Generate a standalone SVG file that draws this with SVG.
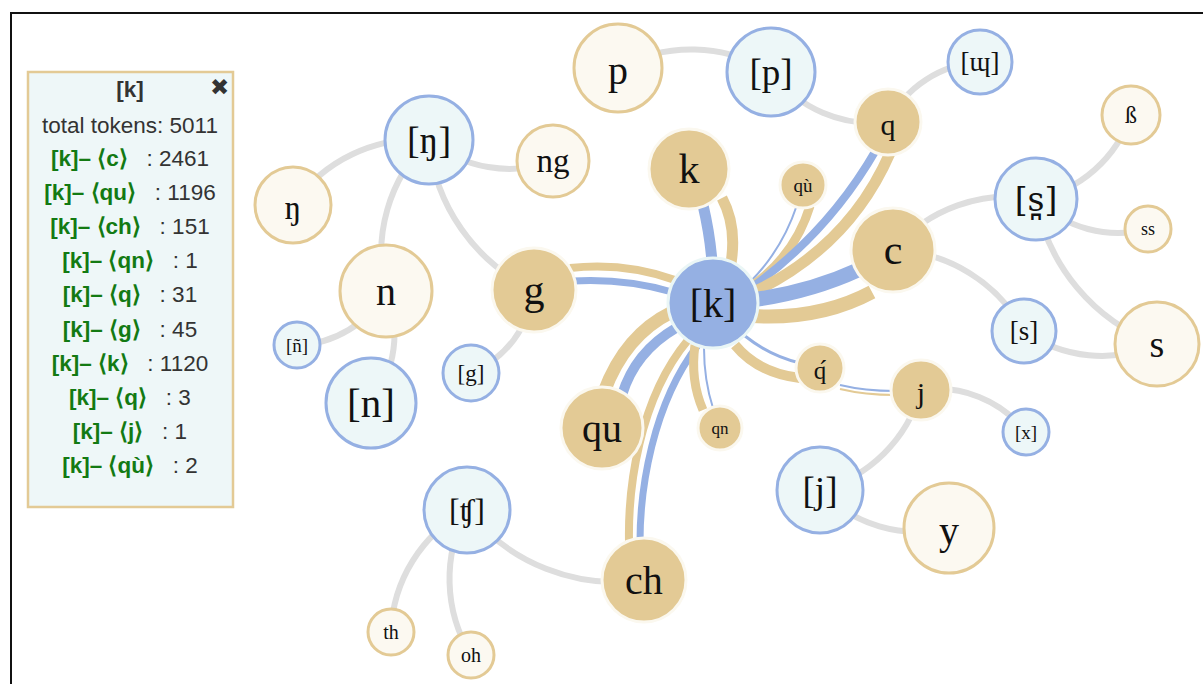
<svg xmlns="http://www.w3.org/2000/svg" width="1203" height="684" viewBox="0 0 1203 684">
<style>
.lk{fill:none;stroke:#dedede;stroke-width:6}
.b{fill:none;stroke:#95b0e3}
.t{fill:none;stroke:#e3ca95}
.ph circle{fill:#edf7f8;stroke:#95b0e3;stroke-width:3}
.gr circle{fill:#fcf9f1;stroke:#e3ca95;stroke-width:3}
.gd circle{fill:#e3ca95;stroke:#fbf8ef;stroke-width:3}
.pd circle{fill:#95b0e3;stroke:#eaf6f6;stroke-width:3}
.n text{font-family:"Liberation Serif","DejaVu Serif",serif;fill:#111;text-anchor:middle;dominant-baseline:central}
.pn text{font-family:"Liberation Sans",Arial,sans-serif;font-size:22.5px;fill:#333;text-anchor:middle}
.gn{fill:#137a13;font-weight:bold}
</style>
<rect x="0" y="0" width="1203" height="684" fill="#fff"/>
<rect x="11" y="13" width="1300" height="800" fill="none" stroke="#111" stroke-width="2"/>

<g id="connectors">
<path class="lk" d="M618 68 A153 153 0 0 1 771 72"/>
<path class="lk" d="M771 72 A127 127 0 0 0 888 122"/>
<path class="lk" d="M888 122 A110 110 0 0 1 980 62"/>
<path class="lk" d="M429 140 A151 151 0 0 0 293 205"/>
<path class="lk" d="M429 140 A126 126 0 0 0 553 161"/>
<path class="lk" d="M429 140 A157 157 0 0 0 386 291"/>
<path class="lk" d="M429 140 A183 183 0 0 0 534 290"/>
<path class="lk" d="M386 291 A104 104 0 0 1 297 345"/>
<path class="lk" d="M386 291 A113 113 0 0 1 371 403"/>
<path class="lk" d="M534 290 A104 104 0 0 1 471 373"/>
<path class="lk" d="M893 250 A152 152 0 0 1 1036 199"/>
<path class="lk" d="M893 250 A154 154 0 0 1 1024 331"/>
<path class="lk" d="M1036 199 A127 127 0 0 0 1131 115"/>
<path class="lk" d="M1036 199 A116 116 0 0 0 1148 229"/>
<path class="lk" d="M1036 199 A189 189 0 0 0 1157 344"/>
<path class="lk" d="M1024 331 A134 134 0 0 0 1157 344"/>
<path class="lk" d="M921 390 A113 113 0 0 1 1026 432"/>
<path class="lk" d="M921 390 A142 142 0 0 1 820 490"/>
<path class="lk" d="M820 490 A134 134 0 0 0 949 528"/>
<path class="lk" d="M467 510 A190 190 0 0 0 644 580"/>
<path class="lk" d="M467 510 A144 144 0 0 0 391 632"/>
<path class="lk" d="M467 510 A145 145 0 0 0 471 655"/>

<path class="b" stroke-width="11" d="M703 205 Q710 235 712 262"/>
<path class="t" stroke-width="11" d="M722 198 Q737 226 731 263"/>
<path class="b" stroke-width="2" d="M797 205 Q782 250 750 282"/>
<path class="t" stroke-width="9" d="M810 206 Q795 255 752 286"/>
<path class="b" stroke-width="8" d="M876 150 Q830 230 755 285"/>
<path class="t" stroke-width="11" d="M890 153 Q850 245 756 291"/>
<path class="b" stroke-width="15" d="M858 270 Q810 292 752 300"/>
<path class="t" stroke-width="14" d="M872 292 Q820 320 752 316"/>
<path class="t" stroke-width="8" d="M570 268 Q625 262 675 280"/>
<path class="b" stroke-width="7" d="M572 281 Q625 278 672 292"/>
<path class="t" stroke-width="13" d="M604 392 Q625 335 672 312"/>
<path class="b" stroke-width="10" d="M622 395 Q635 352 676 328"/>
<path class="t" stroke-width="8" d="M629 542 C628 490 638 400 688 340"/>
<path class="b" stroke-width="7" d="M640 542 C640 490 652 405 698 345"/>
<path class="t" stroke-width="9" d="M703 410 Q690 380 695 345"/>
<path class="b" stroke-width="2" d="M713 408 Q704 380 704 348"/>
<path class="b" stroke-width="3" d="M745 336 Q770 356 800 363"/>
<path class="t" stroke-width="10" d="M735 345 Q758 373 800 378"/>
<path class="b" stroke-width="2" d="M840 385 Q865 391 895 391"/>
<path class="t" stroke-width="2.2" d="M840 389 Q865 395 895 395"/>
</g>

<g id="node-p" class="n gr"><circle cx="618" cy="68" r="44"/><text x="618" y="70" font-size="40">p</text></g>
<g id="node-ph-p" class="n ph"><circle cx="771" cy="72" r="44"/><text x="771" y="72" font-size="37">[p]</text></g>
<g id="node-ph-velapprox" class="n ph"><circle cx="980" cy="62" r="32"/><text x="980" y="62" font-size="27">[ɰ]</text></g>
<g id="node-q" class="n gd"><circle cx="888" cy="122" r="33"/><text x="888" y="124" font-size="30">q</text></g>
<g id="node-ph-eng" class="n ph"><circle cx="429" cy="140" r="44"/><text x="429" y="140" font-size="38">[ŋ]</text></g>
<g id="node-ng" class="n gr"><circle cx="553" cy="161" r="36"/><text x="553" y="161" font-size="33">ng</text></g>
<g id="node-eng" class="n gr"><circle cx="293" cy="205" r="38"/><text x="293" y="207" font-size="34">ŋ</text></g>
<g id="node-n" class="n gr"><circle cx="386" cy="291" r="46"/><text x="386" y="291" font-size="40">n</text></g>
<g id="node-ph-ntilde" class="n ph"><circle cx="297" cy="345" r="23"/><text x="297" y="345" font-size="19">[ñ]</text></g>
<g id="node-ph-n" class="n ph"><circle cx="371" cy="403" r="45"/><text x="371" y="403" font-size="41">[n]</text></g>
<g id="node-g" class="n gd"><circle cx="534" cy="290" r="42"/><text x="534" y="290" font-size="42">g</text></g>
<g id="node-ph-g" class="n ph"><circle cx="471" cy="373" r="28"/><text x="471" y="373" font-size="23">[g]</text></g>
<g id="node-k" class="n gd"><circle cx="689" cy="169" r="40"/><text x="689" y="169" font-size="42">k</text></g>
<g id="node-qugrave" class="n gd"><circle cx="803" cy="185" r="23"/><text x="803" y="185" font-size="19">qù</text></g>
<g id="node-c" class="n gd"><circle cx="893" cy="250" r="42"/><text x="893" y="250" font-size="42">c</text></g>
<g id="node-qu" class="n gd"><circle cx="602" cy="428" r="41"/><text x="602" y="428" font-size="40">qu</text></g>
<g id="node-ch" class="n gd"><circle cx="644" cy="580" r="42"/><text x="644" y="580" font-size="40">ch</text></g>
<g id="node-qn" class="n gd"><circle cx="720" cy="428" r="22"/><text x="720" y="428" font-size="17">qn</text></g>
<g id="node-qacute" class="n gd"><circle cx="820" cy="368" r="24"/><text x="820" y="370" font-size="25">q́</text></g>
<g id="node-j" class="n gd"><circle cx="921" cy="390" r="30"/><text x="921" y="392" font-size="30">j</text></g>
<g id="node-ph-k" class="n pd"><circle cx="713" cy="303" r="45"/><text x="713" y="303" font-size="40">[k]</text></g>
<g id="node-ph-sdental" class="n ph"><circle cx="1036" cy="199" r="41"/><text x="1036" y="199" font-size="33" style="font-family:'DejaVu Serif',serif">[s̪]</text></g>
<g id="node-eszett" class="n gr"><circle cx="1131" cy="115" r="29"/><text x="1131" y="115" font-size="24">ß</text></g>
<g id="node-ss" class="n gr"><circle cx="1148" cy="229" r="23"/><text x="1148" y="229" font-size="18">ss</text></g>
<g id="node-ph-s" class="n ph"><circle cx="1024" cy="331" r="32"/><text x="1024" y="331" font-size="27">[s]</text></g>
<g id="node-s" class="n gr"><circle cx="1157" cy="344" r="42"/><text x="1157" y="344" font-size="38">s</text></g>
<g id="node-ph-x" class="n ph"><circle cx="1026" cy="432" r="23"/><text x="1026" y="432" font-size="19">[x]</text></g>
<g id="node-ph-j" class="n ph"><circle cx="820" cy="490" r="43"/><text x="820" y="490" font-size="37">[j]</text></g>
<g id="node-y" class="n gr"><circle cx="949" cy="528" r="45"/><text x="949" y="530" font-size="40">y</text></g>
<g id="node-ph-tesh" class="n ph"><circle cx="467" cy="510" r="43"/><text x="467" y="510" font-size="32">[ʧ]</text></g>
<g id="node-th" class="n gr"><circle cx="391" cy="632" r="23"/><text x="391" y="632" font-size="20">th</text></g>
<g id="node-oh" class="n gr"><circle cx="471" cy="655" r="23"/><text x="471" y="655" font-size="20">oh</text></g>

<g id="info-panel" class="pn">
<rect x="28" y="72" width="205" height="435" fill="#eef7f8" stroke="#e3ca95" stroke-width="2.5"/>
<text x="130" y="97" font-weight="bold" font-size="22">[k]</text>
<text x="219" y="95" font-size="22" font-family="DejaVu Sans,sans-serif" fill="#222">✖</text>
<text x="130" y="133">total tokens: 5011</text>
<text x="130" y="166"><tspan class="gn">[k]–&#160;⟨c⟩</tspan>&#160;&#160; : 2461</text>
<text x="130" y="200"><tspan class="gn">[k]–&#160;⟨qu⟩</tspan>&#160;&#160; : 1196</text>
<text x="130" y="234"><tspan class="gn">[k]–&#160;⟨ch⟩</tspan>&#160;&#160; : 151</text>
<text x="130" y="268"><tspan class="gn">[k]–&#160;⟨qn⟩</tspan>&#160;&#160; : 1</text>
<text x="130" y="302"><tspan class="gn">[k]–&#160;⟨q⟩</tspan>&#160;&#160; : 31</text>
<text x="130" y="337"><tspan class="gn">[k]–&#160;⟨g⟩</tspan>&#160;&#160; : 45</text>
<text x="130" y="371"><tspan class="gn">[k]–&#160;⟨k⟩</tspan>&#160;&#160; : 1120</text>
<text x="130" y="405"><tspan class="gn">[k]–&#160;⟨q⟩</tspan>&#160;&#160; : 3</text>
<text x="130" y="439"><tspan class="gn">[k]–&#160;⟨j⟩</tspan>&#160;&#160; : 1</text>
<text x="130" y="473"><tspan class="gn">[k]–&#160;⟨qù⟩</tspan>&#160;&#160; : 2</text>
</g>
</svg>
